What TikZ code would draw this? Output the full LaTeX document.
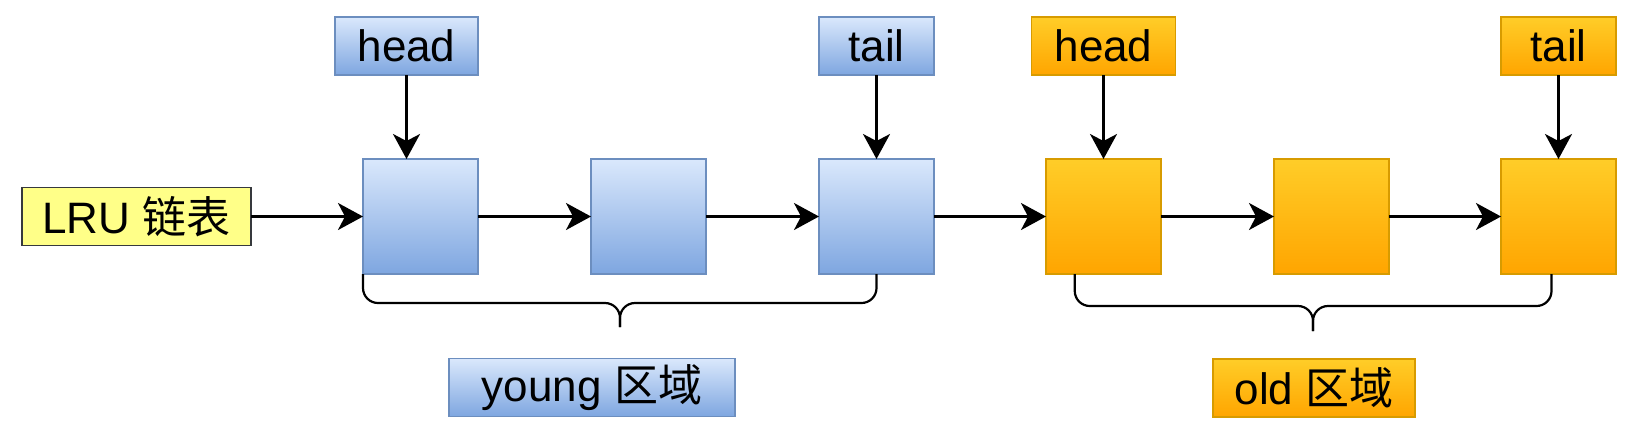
\documentclass[tikz,border=0pt]{standalone}
\usepackage{fontspec}
\setmainfont{Liberation Sans}
\newfontfamily\cjk{Noto Sans CJK SC}
\usetikzlibrary{arrows.meta,calc}
\definecolor{bluetop}{HTML}{DAE8FC}
\definecolor{bluebot}{HTML}{7EA6E0}
\definecolor{bluedraw}{HTML}{6C8EBF}
\definecolor{orgtop}{HTML}{FFCD28}
\definecolor{orgbot}{HTML}{FFA500}
\definecolor{orgdraw}{HTML}{D79B00}
\definecolor{lrufill}{HTML}{FFFF88}
\definecolor{lrudraw}{HTML}{36393D}
\begin{document}
\begin{tikzpicture}[x=0.5pt,y=-0.5pt,
 every node/.style={font=\fontsize{22}{26}\selectfont, inner sep=0pt, outer sep=0pt},
 bluebox/.style={draw=bluedraw, line width=0.8pt, top color=bluetop, bottom color=bluebot},
 orgbox/.style={draw=orgdraw, line width=0.8pt, top color=orgtop, bottom color=orgbot},
 cell/.style={minimum width=57.5pt, minimum height=57.5pt},
 lbl/.style={minimum height=29pt},
 conn/.style={line width=1.1pt, -{Stealth[length=12.5pt,width=13.5pt,inset=3.5pt]}},
 brace/.style={line width=1.1pt, rounded corners=7.5pt}]
\useasboundingbox (0,0) rectangle (1638,441);
% list cells
\node[bluebox,cell] (b1) at (420.5,216.5) {};
\node[bluebox,cell] (b2) at (648.5,216.5) {};
\node[bluebox,cell] (b3) at (876.5,216.5) {};
\node[orgbox,cell] (o1) at (1103.5,216.5) {};
\node[orgbox,cell] (o2) at (1331.5,216.5) {};
\node[orgbox,cell] (o3) at (1558.5,216.5) {};
% LRU label
\node[draw=lrudraw, fill=lrufill, line width=0.8pt, lbl, minimum width=114.5pt] (lru) at (136.5,216.5) {LRU {\cjk 链表}};
% pointer labels
\node[bluebox,lbl,minimum width=71.5pt] (hy) at (406.5,46) {head};
\node[bluebox,lbl,minimum width=57.5pt] (ty) at (876.5,46) {tail};
\node[orgbox,lbl,minimum width=72pt] (ho) at (1103.5,46) {head};
\node[orgbox,lbl,minimum width=57.5pt] (to) at (1558.5,46) {tail};
% region labels
\node[bluebox,lbl,minimum width=143pt] (young) at (592,387.5) {young {\cjk 区域}};
\node[orgbox,lbl,minimum width=101pt] (old) at (1314,388) {old {\cjk 区域}};
% arrows
\draw[conn] (lru.east) -- (b1.west);
\draw[conn] (b1) -- (b2);
\draw[conn] (b2) -- (b3);
\draw[conn] (b3) -- (o1);
\draw[conn] (o1) -- (o2);
\draw[conn] (o2) -- (o3);
\draw[conn] (hy.south) -- (hy.south |- b1.north);
\draw[conn] (ty.south) -- (b3.north);
\draw[conn] (ho.south) -- (o1.north);
\draw[conn] (to.south) -- (o3.north);
% braces
\coordinate (ytip) at (620,327);
\coordinate (otip) at (1313,331);
\draw[brace] (b1.south west) -- (b1.south west |- 0,303) -- (ytip |- 0,303) -- (ytip);
\draw[brace] (b3.south) -- (b3.south |- 0,303) -- (ytip |- 0,303) -- (ytip);
\draw[brace] ($(o1.south west)!0.25!(o1.south east)$) coordinate (ol) -- (ol |- 0,306) -- (otip |- 0,306) -- (otip);
\draw[brace] ($(o3.south)+(-7,0)$) coordinate (or) -- (or |- 0,306) -- (otip |- 0,306) -- (otip);
\end{tikzpicture}
\end{document}
